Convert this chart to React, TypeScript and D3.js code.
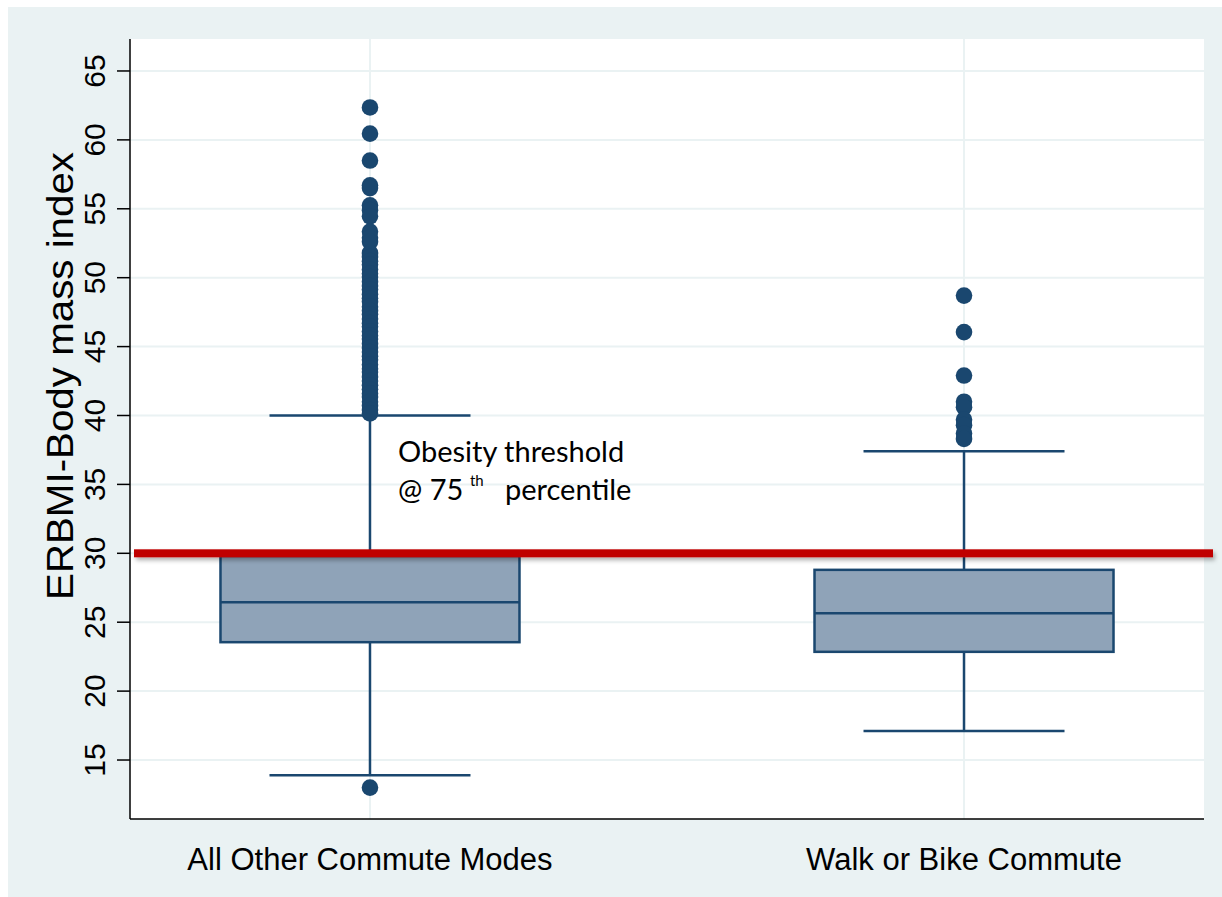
import { useEffect, useRef } from 'react';
import * as d3 from 'd3';

// commute groups
const categories = ['All Other Commute Modes', 'Walk or Bike Commute'];

// box plot summary per group
const lowerWhisker = [13.9, 17.1];
const q1 = [23.55, 22.85];
const median = [26.45, 25.65];
const q3 = [29.8, 28.8];
const upperWhisker = [40.0, 37.4];

// outside values
const outliersOther = [
  62.35, 60.45, 58.5, 56.7, 56.5, 55.25, 54.9, 54.45, 53.35, 52.9, 52.6,
  51.8, 51.5, 51.2, 50.95, 50.6, 50.3, 50.05, 49.7, 49.4, 49.15, 48.8, 48.5,
  48.25, 47.9, 47.6, 47.35, 47.0, 46.7, 46.45, 46.1, 45.8, 45.55, 45.2, 44.9,
  44.6, 44.3, 44.05, 43.7, 43.4, 43.15, 42.8, 42.5, 42.2, 41.9, 41.6, 41.35,
  41.0, 40.7, 40.4, 40.15, 13.0,
];
const outliersActive = [48.7, 46.05, 42.9, 41.0, 40.6, 39.7, 39.3, 38.7, 38.3];
const outliers = [outliersOther, outliersActive];

const yTicks = [15, 20, 25, 30, 35, 40, 45, 50, 55, 60, 65];
const threshold = 30;

const navy = '#1a476f';
const boxFill = '#8fa3b8';
const grid = '#eaf2f3';

const App = () => {
  const svgRef = useRef(null);

  useEffect(() => {
    const svg = d3.select(svgRef.current);
    svg.selectAll('*').remove();

    const W = 1222;
    const H = 897;
    const plot = { left: 130, right: 1204, top: 39, bottom: 819 };

    const x = d3.scalePoint().domain(categories).range([plot.left, plot.right]).padding(0.404);
    const y = d3.scaleLinear().domain([10.72, 67.32]).range([plot.bottom, plot.top]);
    const boxW = 299;
    const capW = 201;

    const defs = svg.append('defs');
    const f = defs
      .append('filter')
      .attr('id', 'shadow')
      .attr('filterUnits', 'userSpaceOnUse')
      .attr('x', 100)
      .attr('y', 500)
      .attr('width', 1150)
      .attr('height', 100);
    f.append('feDropShadow')
      .attr('dx', 2)
      .attr('dy', 3)
      .attr('stdDeviation', 2)
      .attr('flood-color', '#000')
      .attr('flood-opacity', 0.3);

    svg.append('rect').attr('x', 8).attr('y', 7).attr('width', W - 8).attr('height', H - 7).attr('fill', grid);
    svg
      .append('rect')
      .attr('x', plot.left)
      .attr('y', plot.top)
      .attr('width', plot.right - plot.left)
      .attr('height', plot.bottom - plot.top)
      .attr('fill', '#fff');

    // grid
    svg
      .append('g')
      .selectAll('line')
      .data(yTicks)
      .enter()
      .append('line')
      .attr('x1', plot.left)
      .attr('x2', plot.right)
      .attr('y1', (d) => y(d))
      .attr('y2', (d) => y(d))
      .attr('stroke', grid)
      .attr('stroke-width', 2);

    svg
      .append('g')
      .selectAll('line')
      .data(categories)
      .enter()
      .append('line')
      .attr('x1', (d) => x(d))
      .attr('x2', (d) => x(d))
      .attr('y1', plot.top)
      .attr('y2', plot.bottom)
      .attr('stroke', grid)
      .attr('stroke-width', 2);

    // boxes
    const g = svg.append('g');
    categories.forEach((c, i) => {
      const cx = x(c);
      g.append('line')
        .attr('x1', cx).attr('x2', cx)
        .attr('y1', y(q3[i])).attr('y2', y(upperWhisker[i]))
        .attr('stroke', navy).attr('stroke-width', 2.5);
      g.append('line')
        .attr('x1', cx).attr('x2', cx)
        .attr('y1', y(q1[i])).attr('y2', y(lowerWhisker[i]))
        .attr('stroke', navy).attr('stroke-width', 2.5);
      [upperWhisker[i], lowerWhisker[i]].forEach((v) => {
        g.append('line')
          .attr('x1', cx - capW / 2).attr('x2', cx + capW / 2)
          .attr('y1', y(v)).attr('y2', y(v))
          .attr('stroke', navy).attr('stroke-width', 2.5);
      });
      g.append('rect')
        .attr('x', cx - boxW / 2)
        .attr('y', y(q3[i]))
        .attr('width', boxW)
        .attr('height', y(q1[i]) - y(q3[i]))
        .attr('fill', boxFill)
        .attr('stroke', navy)
        .attr('stroke-width', 2.5);
      g.append('line')
        .attr('x1', cx - boxW / 2).attr('x2', cx + boxW / 2)
        .attr('y1', y(median[i])).attr('y2', y(median[i]))
        .attr('stroke', navy).attr('stroke-width', 2.5);
      g.append('g')
        .selectAll('circle')
        .data(outliers[i])
        .enter()
        .append('circle')
        .attr('cx', cx)
        .attr('cy', (d) => y(d))
        .attr('r', 8.3)
        .attr('fill', navy);
    });

    // axes
    svg
      .append('line')
      .attr('x1', plot.left).attr('x2', plot.left)
      .attr('y1', plot.top).attr('y2', plot.bottom)
      .attr('stroke', '#000').attr('stroke-width', 1.5);
    svg
      .append('line')
      .attr('x1', plot.left).attr('x2', plot.right)
      .attr('y1', plot.bottom).attr('y2', plot.bottom)
      .attr('stroke', '#000').attr('stroke-width', 1.5);

    const ticks = svg.append('g').selectAll('g').data(yTicks).enter().append('g');
    ticks
      .append('line')
      .attr('x1', 117).attr('x2', plot.left)
      .attr('y1', (d) => y(d)).attr('y2', (d) => y(d))
      .attr('stroke', '#000').attr('stroke-width', 1.5);
    ticks
      .append('text')
      .attr('transform', (d) => `translate(105, ${y(d)}) rotate(-90)`)
      .attr('text-anchor', 'middle')
      .style('font-family', '"Liberation Sans", Arial, sans-serif')
      .style('font-size', '30px')
      .attr('fill', '#000')
      .text((d) => d);

    svg
      .append('text')
      .attr('transform', `translate(73, 376) rotate(-90)`)
      .attr('text-anchor', 'middle')
      .style('font-family', '"Liberation Sans", Arial, sans-serif')
      .style('font-size', '36px')
      .attr('textLength', 448)
      .attr('lengthAdjust', 'spacingAndGlyphs')
      .attr('fill', '#000')
      .text('ERBMI-Body mass index');

    svg
      .append('g')
      .selectAll('text')
      .data(categories)
      .enter()
      .append('text')
      .attr('x', (d) => x(d))
      .attr('y', 870)
      .attr('text-anchor', 'middle')
      .style('font-family', '"Liberation Sans", Arial, sans-serif')
      .style('font-size', '31px')
      .attr('fill', '#000')
      .text((d) => d);

    // obesity threshold line
    svg
      .append('rect')
      .attr('x', 134)
      .attr('width', 1213 - 134)
      .attr('y', y(threshold) - 4)
      .attr('height', 8)
      .attr('fill', '#c00000')
      .attr('filter', 'url(#shadow)');

    const ax = x(categories[0]) + 28;
    const font = 'Lato, "Open Sans", sans-serif';
    svg
      .append('text')
      .attr('x', ax)
      .attr('y', y(36.63))
      .style('font-family', font)
      .style('font-size', '29px')
      .attr('fill', '#000')
      .text('Obesity threshold');
    const line2 = svg
      .append('text')
      .attr('x', ax)
      .attr('y', y(33.87))
      .style('font-family', font)
      .style('font-size', '29px')
      .attr('fill', '#000');
    line2.append('tspan').text('@ 75');
    line2.append('tspan').attr('x', ax + 72).attr('dy', -14).style('font-size', '15px').text('th');
    line2.append('tspan').attr('x', ax + 107).attr('dy', 14).text('percentile');
  }, []);

  return (
    <svg
      ref={svgRef}
      width={1222}
      height={897}
      style={{ position: 'absolute', left: 0, top: 0, display: 'block' }}
    ></svg>
  );
};

export default App;
